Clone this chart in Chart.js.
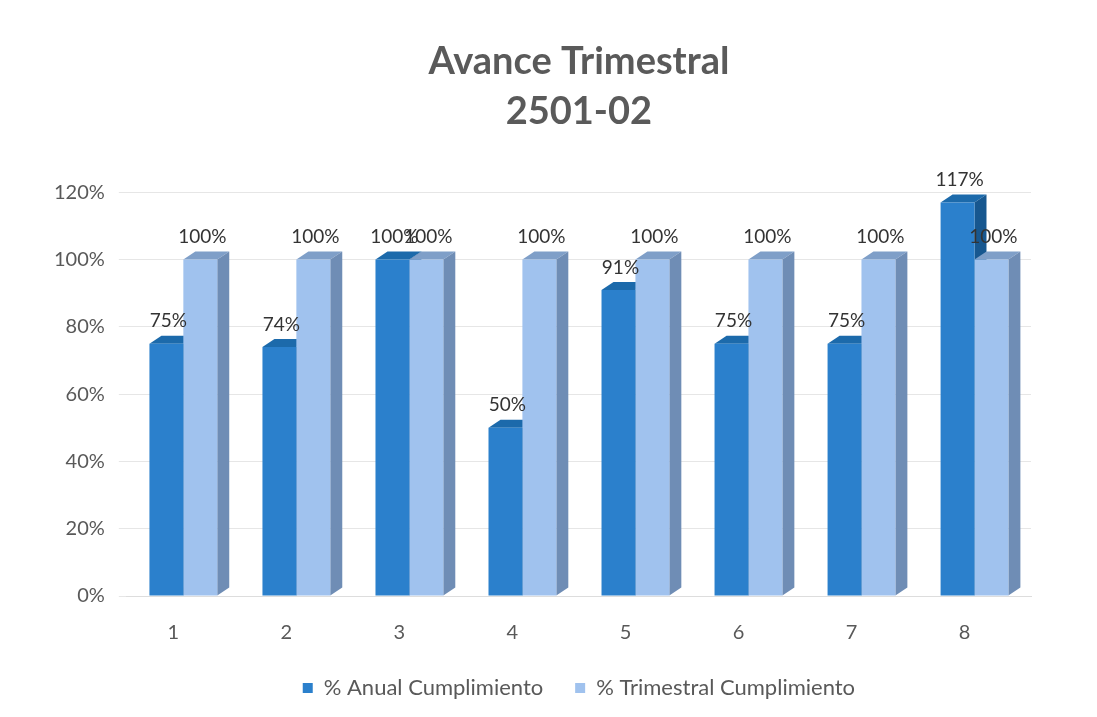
<!DOCTYPE html>
<html>
<head>
<meta charset="utf-8">
<script src="https://cdn.jsdelivr.net/npm/chart.js@4.4.1/dist/chart.umd.min.js"></script>
<style>
  html, body { margin: 0; padding: 0; background: #fff; }
  #wrap { width: 1097px; height: 717px; }
</style>
</head>
<body>
<div id="wrap"><canvas id="c" width="1097" height="717"></canvas></div>
<script>
const categories = ["1", "2", "3", "4", "5", "6", "7", "8"];
const anual = [75, 74, 100, 50, 91, 75, 75, 117];
const trimestral = [100, 100, 100, 100, 100, 100, 100, 100];
const yTicks = [0, 20, 40, 60, 80, 100, 120];

const FONT = "Lato, 'Open Sans', sans-serif";
const DEPTH_X = 12, DEPTH_Y = 8;
const faces = [
  { top: "#1c6aab", side: "#17578f" },
  { top: "#7f9fc8", side: "#6f8db5" }
];

// fake 3D depth faces behind the flat bars
const depthPlugin = {
  id: "depth",
  beforeDatasetsDraw(chart) {
    const ctx = chart.ctx;
    chart.data.datasets.forEach((ds, di) => {
      const meta = chart.getDatasetMeta(di);
      meta.data.forEach(bar => {
        const l = bar.x - bar.width / 2, r = bar.x + bar.width / 2;
        const t = bar.y, b = bar.base;
        ctx.save();
        ctx.fillStyle = faces[di].top;
        ctx.beginPath();
        ctx.moveTo(l, t);
        ctx.lineTo(l + DEPTH_X, t - DEPTH_Y);
        ctx.lineTo(r + DEPTH_X, t - DEPTH_Y);
        ctx.lineTo(r, t);
        ctx.closePath();
        ctx.fill();
        ctx.fillStyle = faces[di].side;
        ctx.beginPath();
        ctx.moveTo(r, t);
        ctx.lineTo(r + DEPTH_X, t - DEPTH_Y);
        ctx.lineTo(r + DEPTH_X, b - DEPTH_Y);
        ctx.lineTo(r, b);
        ctx.closePath();
        ctx.fill();
        ctx.restore();
      });
    });
  }
};

const labelPlugin = {
  id: "valueLabels",
  afterDatasetsDraw(chart) {
    const ctx = chart.ctx;
    ctx.save();
    ctx.font = "19px " + FONT;
    ctx.fillStyle = "#333";
    ctx.textAlign = "center";
    ctx.textBaseline = "bottom";
    chart.data.datasets.forEach((ds, di) => {
      const meta = chart.getDatasetMeta(di);
      meta.data.forEach((bar, i) => {
        ctx.fillText(ds.data[i] + "%", bar.x + 2, bar.y - 13);
      });
    });
    ctx.restore();
  }
};

new Chart(document.getElementById("c"), {
  type: "bar",
  data: {
    labels: categories,
    datasets: [
      { label: "% Anual Cumplimiento", data: anual, backgroundColor: "#2b80cc" },
      { label: "% Trimestral Cumplimiento", data: trimestral, backgroundColor: "#a0c2ee" }
    ]
  },
  options: {
    responsive: false,
    animation: false,
    layout: { padding: { left: 40, right: 66, top: 18, bottom: 8 } },
    datasets: { bar: { categoryPercentage: 0.6, barPercentage: 1.0 } },
    plugins: {
      title: {
        display: true,
        fullSize: false,
        text: ["Avance Trimestral", "2501-02"],
        color: "#5a5a5a",
        font: { family: FONT, size: 38, weight: "bold", lineHeight: 1.32 },
        padding: { top: 19, bottom: 55 }
      },
      legend: {
        position: "bottom",
        fullSize: false,
        labels: {
          color: "#595959",
          font: { family: FONT, size: 22 },
          boxWidth: 10,
          boxHeight: 10,
          padding: 15,
          // widen the gap between the two entries (padding is also the vertical gap)
          generateLabels(chart) {
            const items = Chart.defaults.plugins.legend.labels.generateLabels(chart);
            items[0].text += "   ";
            return items;
          }
        }
      },
      tooltip: { enabled: false }
    },
    scales: {
      x: {
        grid: { display: false },
        border: { color: "#dddddd" },
        ticks: { color: "#595959", font: { family: FONT, size: 20 }, padding: 17, labelOffset: -10 }
      },
      y: {
        min: yTicks[0],
        max: yTicks[yTicks.length - 1],
        afterBuildTicks(axis) { axis.ticks = yTicks.map(v => ({ value: v })); },
        grid: { color: "#e6e6e6" },
        border: { display: false },
        ticks: {
          color: "#595959",
          font: { family: FONT, size: 20 },
          padding: 14,
          callback: v => v + "%"
        }
      }
    }
  },
  plugins: [depthPlugin, labelPlugin]
});
</script>
</body>
</html>
